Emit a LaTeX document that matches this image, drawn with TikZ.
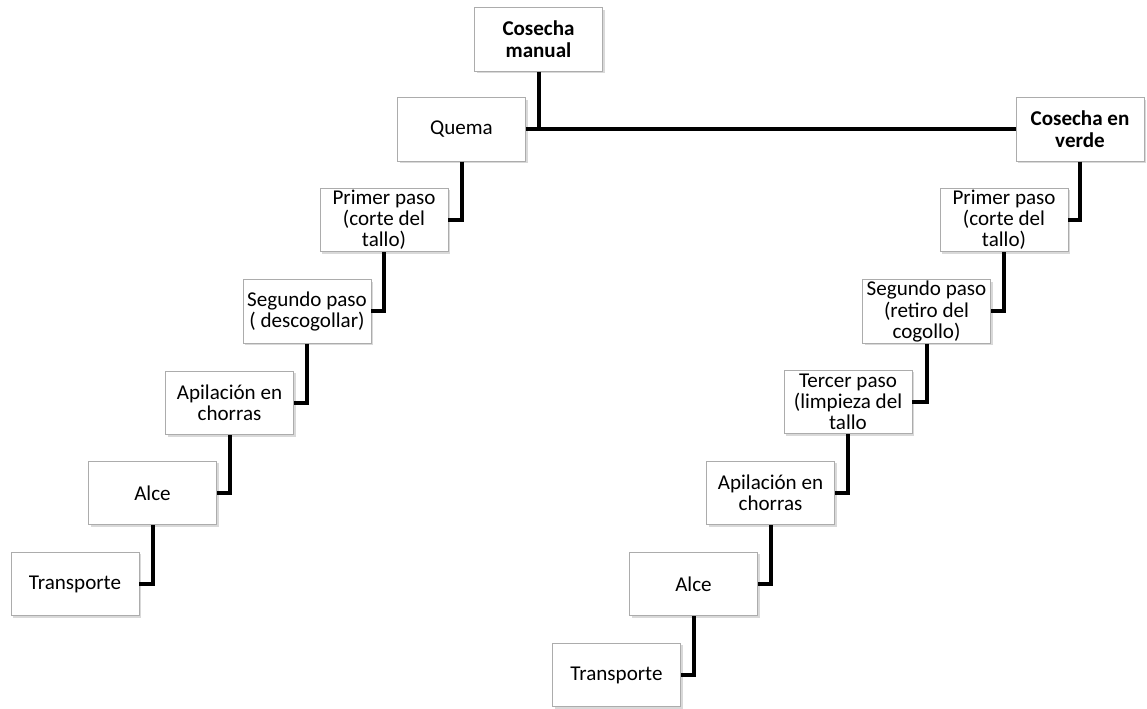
\documentclass[tikz,border=0pt]{standalone}
\usepackage{fontspec}
\setmainfont{Carlito}
\usetikzlibrary{shadows}
\begin{document}
\begin{tikzpicture}[x=0.75pt, y=-0.75pt,
caja/.style={draw=gray!65, fill=white, line width=0.6pt, minimum width=96pt, minimum height=47.5pt, inner sep=1pt, align=center, font=\fontsize{15.8}{15.8}\selectfont, drop shadow={opacity=0.3, shadow xshift=1.5pt, shadow yshift=-1.5pt}},
titulo/.style={caja, font=\fontsize{15.8}{16.5}\selectfont\bfseries},
linea/.style={line width=3pt}]
\useasboundingbox (0,0) rectangle (1147,709);
\node[titulo] (manual) at (538.5,39.5) {Cosecha\\manual};
\node[caja] (quema) at (461.5,129.5) {Quema};
\node[caja] (primerL) at (384,220) {Primer paso\\(corte del\\tallo)};
\node[caja] (segundoL) at (307,311.5) {Segundo paso\\( descogollar)};
\node[caja] (apilaL) at (229.5,403) {Apilación en\\chorras};
\node[caja] (alceL) at (152.5,493) {Alce};
\node[caja] (transL) at (75,584) {Transporte};
\node[titulo] (verde) at (1080,129.5) {Cosecha en\\verde};
\node[caja] (primerR) at (1004,220) {Primer paso\\(corte del\\tallo)};
\node[caja] (segundoR) at (926.5,311.5) {Segundo paso\\(retiro del\\cogollo)};
\node[caja] (tercerR) at (848,402) {Tercer paso\\(limpieza del\\tallo};
\node[caja] (apilaR) at (770.5,493) {Apilación en\\chorras};
\node[caja] (alceR) at (693.5,584) {Alce};
\node[caja] (transR) at (616.5,675) {Transporte};
\draw[linea] (manual.south) |- (quema.east);
\draw[linea] (quema.east) -- (verde.west);
\draw[linea] (quema.south) |- (primerL.east);
\draw[linea] (primerL.south) |- (segundoL.east);
\draw[linea] (segundoL.south) |- (apilaL.east);
\draw[linea] (apilaL.south) |- (alceL.east);
\draw[linea] (alceL.south) |- (transL.east);
\draw[linea] (verde.south) |- (primerR.east);
\draw[linea] (primerR.south) |- (segundoR.east);
\draw[linea] (segundoR.south) |- (tercerR.east);
\draw[linea] (tercerR.south) |- (apilaR.east);
\draw[linea] (apilaR.south) |- (alceR.east);
\draw[linea] (alceR.south) |- (transR.east);
\end{tikzpicture}
\end{document}
